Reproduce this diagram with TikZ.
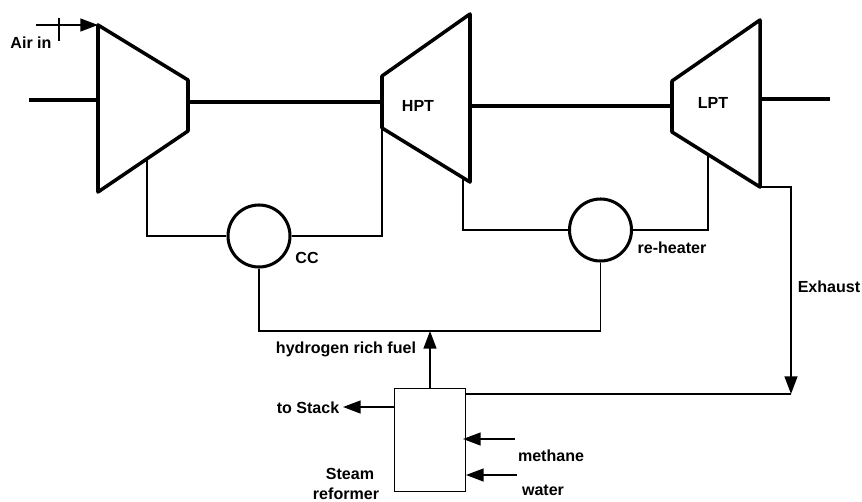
\documentclass[tikz,border=0pt]{standalone}
\usepackage{fontspec}
\setmainfont{Liberation Sans}
\usetikzlibrary{arrows.meta}
\tikzset{
    shaft/.style={line width=3pt},
    pipe/.style={line width=1.2pt},
    flow/.style={line width=1.2pt,-{Triangle[length=15pt,width=11pt]}},
    burner/.style={circle,draw,line width=2.6pt,inner sep=0pt,minimum size=1.86cm},
    lbl/.style={inner sep=0pt,font=\fontsize{13.7}{13.7}\selectfont\bfseries}
}
\begin{document}
\begin{tikzpicture}[x=0.03cm,y=-0.03cm]
        \useasboundingbox (0,0) rectangle (862,502);

        % compressor and turbines
        \coordinate (cmpA) at (98,25);
        \coordinate (cmpB) at (188,80);
        \coordinate (cmpC) at (188,131);
        \coordinate (cmpD) at (98,192);
        \draw[shaft,line join=round] (cmpA) -- (cmpB) -- (cmpC) -- (cmpD) -- cycle;

        \coordinate (hptA) at (382,76);
        \coordinate (hptB) at (470,14);
        \coordinate (hptC) at (470,182);
        \coordinate (hptD) at (382,128);
        \draw[shaft,line join=round] (hptA) -- (hptB) -- (hptC) -- (hptD) -- cycle;

        \coordinate (lptA) at (672,81);
        \coordinate (lptB) at (760,20);
        \coordinate (lptC) at (760,187);
        \coordinate (lptD) at (672,132);
        \draw[shaft,line join=round] (lptA) -- (lptB) -- (lptC) -- (lptD) -- cycle;

        % shafts
        \coordinate (shaftin) at (29,100);
        \coordinate (shaftinb) at (98,100);
        \coordinate (shaftA) at (188,102);
        \coordinate (shaftB) at (382,102);
        \coordinate (shaftC) at (470,106);
        \coordinate (shaftD) at (672,106);
        \coordinate (shaftE) at (760,99);
        \coordinate (shaftout) at (830,99);
        \draw[shaft] (shaftin) -- (shaftinb);
        \draw[shaft] (shaftA) -- (shaftB);
        \draw[shaft] (shaftC) -- (shaftD);
        \draw[shaft] (shaftE) -- (shaftout);

        % burners and reformer
        \node (cc) at (259,236)[burner]{};
        \node (reheater) at (600.5,230)[burner]{};
        \node (reformer) at (430,440)[draw,line width=1.2pt,minimum width=2.13cm,minimum height=3.1cm]{};

        % gas path
        \coordinate (cmpout) at (147,159);
        \coordinate (hptin) at (382,128);
        \coordinate (hptout) at (463,178);
        \coordinate (lptin) at (708,155);
        \draw[pipe] (cmpout) |- (cc.west);
        \draw[pipe] (cc.east) -| (hptin);
        \draw[pipe] (hptout) |- (reheater.west);
        \draw[pipe] (reheater.east) -| (lptin);

        % fuel
        \coordinate (fuelmid) at (430,331);
        \draw[pipe] (cc.south) |- (fuelmid) -| (reheater.south);
        \draw[flow] (reformer.north) -- (fuelmid);

        % exhaust
        \coordinate (exhA) at (791,187);
        \coordinate (exhB) at (791,394);
        \coordinate (reformin) at (465,394);
        \draw[flow] (lptC) -- (exhA) -- (exhB);
        \draw[pipe] (reformin) -- (exhB);

        % small inlets and outlets
        \coordinate (airstart) at (36,25);
        \coordinate (airtickA) at (59,18);
        \coordinate (airtickB) at (59,41);
        \coordinate (stackA) at (394,407);
        \coordinate (stackB) at (343,407);
        \coordinate (methA) at (515,439);
        \coordinate (methB) at (463,439);
        \coordinate (watA) at (517,475);
        \coordinate (watB) at (466,475);
        \draw[flow] (airstart) -- (cmpA);
        \draw[pipe] (airtickA) -- (airtickB);
        \draw[flow] (stackA) -- (stackB);
        \draw[flow] (methA) -- (methB);
        \draw[flow] (watA) -- (watB);

        % labels
        \node (airlbl) at (31,43)[lbl]{Air in};
        \node (hptlbl) at (418,106)[lbl]{HPT};
        \node (lptlbl) at (713,103)[lbl]{LPT};
        \node (cclbl) at (307,258)[lbl]{CC};
        \node (rhlbl) at (672,248)[lbl]{re-heater};
        \node (exhlbl) at (829,287)[lbl]{Exhaust};
        \node (fuellbl) at (346,349)[lbl]{hydrogen rich fuel};
        \node (stacklbl) at (308,408)[lbl]{to Stack};
        \node (steamlbl) at (350,474)[lbl]{Steam};
        \node (reflbl) at (346,493.5)[lbl]{reformer};
        \node (methlbl) at (551,456)[lbl]{methane};
        \node (watlbl) at (543,490)[lbl]{water};
    \end{tikzpicture}
\end{document}
